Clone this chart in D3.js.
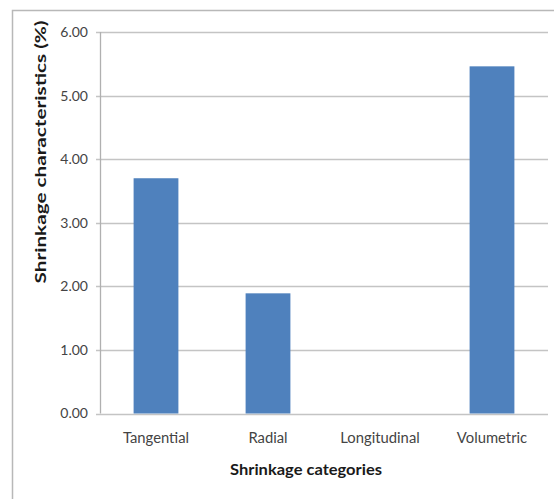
<!DOCTYPE html>
<html>
<head>
<meta charset="utf-8">
<script src="https://cdn.jsdelivr.net/npm/d3@7"></script>
<style>
html,body{margin:0;padding:0;background:#fff;}
svg{display:block;}
text{font-family:Lato,"Open Sans",sans-serif;}
</style>
</head>
<body>
<script>
const categories = ["Tangential", "Radial", "Longitudinal", "Volumetric"];
const values = [3.70, 1.89, 0.00, 5.46];
const yTicks = [0, 1, 2, 3, 4, 5, 6];
const xTitle = "Shrinkage categories";
const yTitle = "Shrinkage characteristics (%)";

(function () {
const W = 554, H = 499;
const svg = d3.select("body").append("svg").attr("width", W).attr("height", H);

// outer chart border
svg.append("rect").attr("x", 12.5).attr("y", 10.5).attr("width", 560).attr("height", 520)
  .attr("fill", "#fff").attr("stroke", "#b8b8b8").attr("stroke-width", 1.5);

const pLeft = 100, pRight = 548, pTop = 32, pBottom = 413.5;
const x = d3.scaleBand().domain(categories).range([pLeft, pRight]).paddingInner(0.6).paddingOuter(0.3);
const y = d3.scaleLinear().domain([0, 6]).range([pBottom, pTop]);

// gridlines
svg.append("g").selectAll("line").data(yTicks).join("line")
  .attr("x1", pLeft - 4).attr("x2", pRight)
  .attr("y1", d => Math.round(y(d)) + 0.5).attr("y2", d => Math.round(y(d)) + 0.5)
  .attr("stroke", "#c4c4c4").attr("stroke-width", 1.3);

// vertical axis line
svg.append("line").attr("x1", pLeft + 0.5).attr("x2", pLeft + 0.5)
  .attr("y1", y(6)).attr("y2", y(0))
  .attr("stroke", "#b0b0b0").attr("stroke-width", 1.3);

// y tick labels
const yAxis = d3.axisLeft(y).tickValues(yTicks).tickFormat(d3.format(".2f")).tickSize(0).tickPadding(12);
const gy = svg.append("g").attr("transform", `translate(${pLeft},0)`).call(yAxis);
gy.select(".domain").remove();
gy.selectAll("text").attr("font-size", 14).attr("fill", "#444")
  .style("font-family", "Lato, 'Open Sans', sans-serif");

// bars
svg.append("g").selectAll("rect").data(categories).join("rect")
  .attr("x", d => x(d))
  .attr("width", x.bandwidth())
  .attr("y", (d, i) => y(values[i]))
  .attr("height", (d, i) => y(0) - y(values[i]))
  .attr("fill", "#4f81bd");

// x labels
const xAxis = d3.axisBottom(x).tickSize(0).tickPadding(19);
const gx = svg.append("g").attr("transform", `translate(0,${pBottom})`).call(xAxis);
gx.select(".domain").remove();
gx.selectAll("text").attr("font-size", 14.8).attr("fill", "#444")
  .style("font-family", "Lato, 'Open Sans', sans-serif");

// axis titles
svg.append("text").attr("x", 306).attr("y", 475).attr("text-anchor", "middle")
  .attr("font-size", 15.5).attr("font-weight", "bold").attr("fill", "#1a1a1a")
  .attr("textLength", 152).attr("lengthAdjust", "spacingAndGlyphs")
  .text(xTitle);

svg.append("text").attr("transform", "translate(46,152) rotate(-90)")
  .attr("text-anchor", "middle")
  .attr("font-size", 15.5).attr("font-weight", "bold").attr("fill", "#1a1a1a")
  .attr("textLength", 263).attr("lengthAdjust", "spacingAndGlyphs")
  .text(yTitle);
})();
</script>
</body>
</html>
